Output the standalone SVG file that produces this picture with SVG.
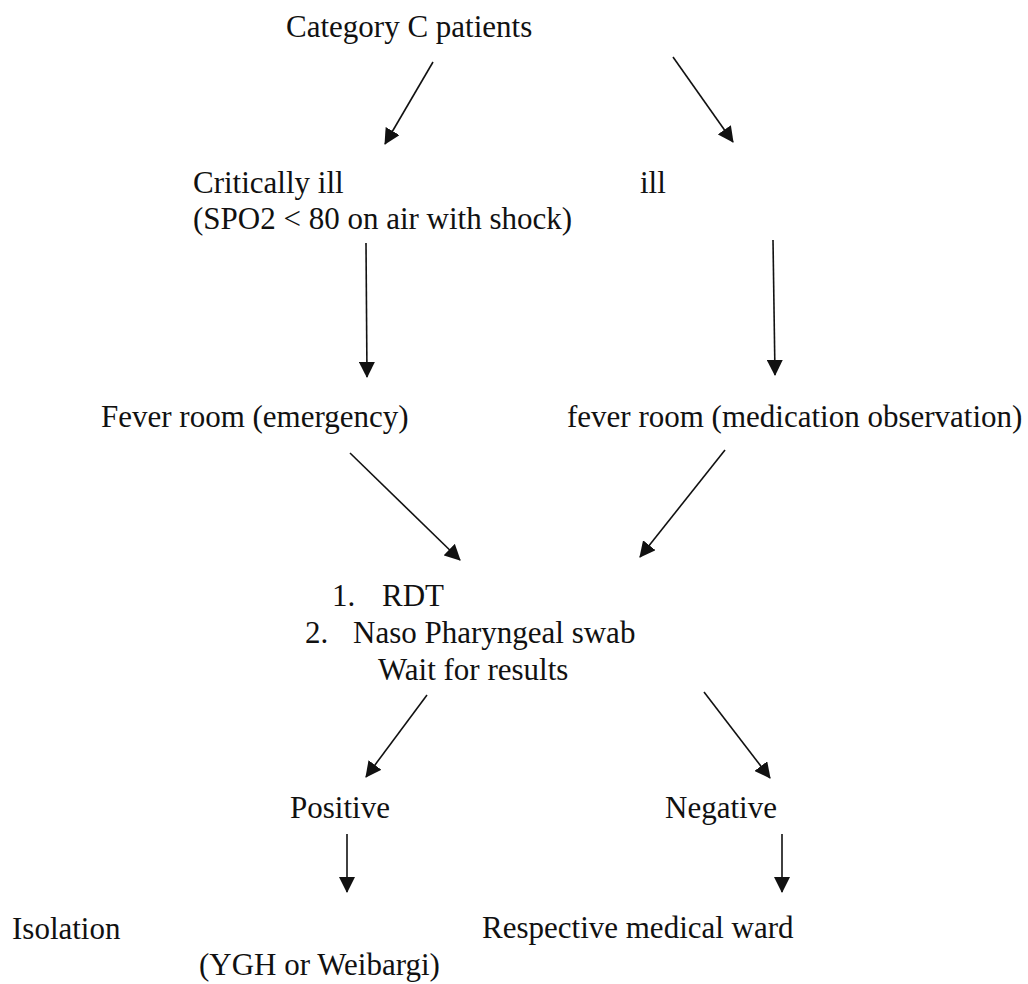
<svg xmlns="http://www.w3.org/2000/svg" width="1028" height="984" viewBox="0 0 1028 984">
<defs>
<style>
text{font-family:"Liberation Serif","Times New Roman",serif;font-size:31px;fill:#111;}
.c line{stroke:#111;stroke-width:1.6;marker-end:url(#ah);}
</style>
<marker id="ah" markerWidth="16" markerHeight="16" refX="15" refY="8" orient="auto" markerUnits="userSpaceOnUse"><path d="M0,0 L16,8 L0,16 z" fill="#111"/></marker>
</defs>
<rect width="1028" height="984" fill="#fff"/>
<g id="n-category"><text x="286" y="37">Category C patients</text></g>
<g id="n-critical"><text x="193" y="193">Critically ill</text><text x="193" y="229">(SPO2 &lt; 80 on air with shock)</text></g>
<g id="n-ill"><text x="640" y="193">ill</text></g>
<g id="n-fever-emergency"><text x="101" y="427">Fever room (emergency)</text></g>
<g id="n-fever-medication"><text x="567" y="427">fever room (medication observation)</text></g>
<g id="n-tests"><text x="332" y="606">1.</text><text x="382" y="606">RDT</text><text x="305" y="643">2.</text><text x="353" y="643">Naso Pharyngeal swab</text><text x="378" y="680">Wait for results</text></g>
<g id="n-positive"><text x="290" y="818">Positive</text></g>
<g id="n-negative"><text x="665" y="818">Negative</text></g>
<g id="n-isolation"><text x="12" y="939">Isolation</text><text x="199" y="975">(YGH or Weibargi)</text></g>
<g id="n-ward"><text x="482" y="938">Respective medical ward</text></g>
<g id="connectors" class="c">
<line x1="433" y1="62" x2="385" y2="144"/>
<line x1="673" y1="57" x2="733" y2="142"/>
<line x1="366" y1="243" x2="367" y2="377"/>
<line x1="773" y1="240" x2="775" y2="375"/>
<line x1="350" y1="453" x2="460" y2="560"/>
<line x1="725" y1="450" x2="640" y2="557"/>
<line x1="427" y1="695" x2="366" y2="777"/>
<line x1="704" y1="692" x2="770" y2="778"/>
<line x1="347" y1="834" x2="347" y2="892"/>
<line x1="782" y1="834" x2="782" y2="892"/>
</g>
</svg>
